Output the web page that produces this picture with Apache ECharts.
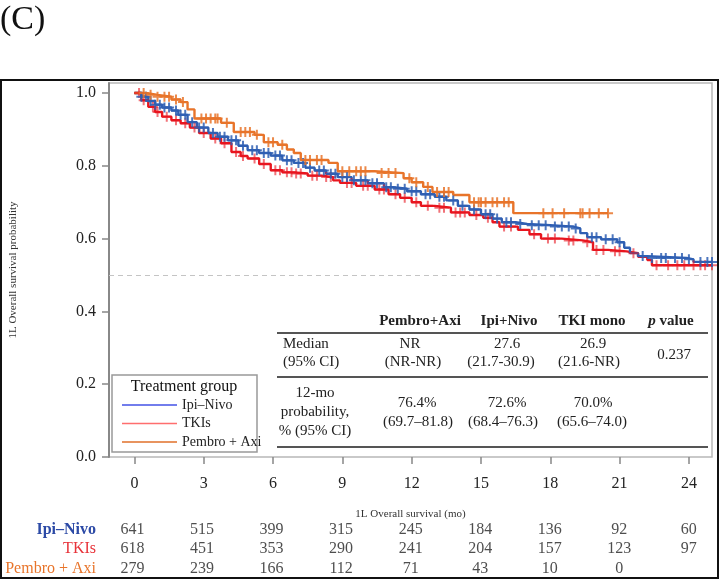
<!DOCTYPE html>
<html><head><meta charset="utf-8">
<script src="https://cdn.jsdelivr.net/npm/echarts@6/dist/echarts.min.js"></script>
<style>html,body{margin:0;padding:0;background:#fff}#c{width:720px;height:581px}</style>
</head><body><div id="c"></div>
<script>
// ---------- data ----------
const groups = ['Ipi–Nivo', 'TKIs', 'Pembro + Axi'];
const xTicks = [0, 3, 6, 9, 12, 15, 18, 21, 24];
const yTicks = [0, 0.2, 0.4, 0.6, 0.8, 1.0];

const ipiNivoCurve = [[0,1.0],[0.3,0.99],[0.6,0.978],[0.9,0.968],[1.2,0.96],[1.6,0.952],[1.9,0.94],[2.3,0.92],[2.7,0.905],[3.2,0.89],[3.6,0.88],[4.05,0.87],[4.5,0.855],[4.9,0.843],[5.4,0.835],[5.9,0.828],[6.4,0.815],[6.9,0.808],[7.4,0.795],[7.8,0.787],[8.3,0.778],[8.8,0.769],[9.4,0.76],[10.1,0.752],[10.8,0.741],[11.2,0.737],[11.8,0.73],[12.4,0.722],[13.0,0.715],[13.5,0.705],[14.0,0.69],[14.5,0.68],[15.0,0.667],[15.5,0.655],[15.9,0.645],[16.5,0.64],[17.0,0.637],[18.0,0.633],[19.0,0.628],[19.3,0.615],[19.6,0.604],[20.2,0.598],[20.9,0.59],[21.2,0.575],[21.45,0.56],[21.8,0.552],[22.2,0.547],[23.9,0.543],[24.2,0.536],[25.0,0.536]];
const tkiCurve = [[0,1.0],[0.3,0.98],[0.6,0.962],[0.9,0.948],[1.2,0.935],[1.6,0.925],[2.0,0.917],[2.4,0.905],[2.8,0.89],[3.3,0.875],[3.75,0.862],[4.2,0.838],[4.6,0.827],[4.9,0.82],[5.4,0.805],[5.9,0.788],[6.4,0.782],[6.9,0.779],[7.5,0.773],[8.1,0.769],[8.6,0.76],[8.9,0.753],[9.6,0.745],[10.4,0.735],[11.0,0.722],[11.5,0.712],[12.0,0.70],[12.4,0.69],[13.0,0.685],[13.7,0.672],[14.5,0.665],[15.1,0.657],[15.5,0.645],[15.8,0.633],[16.6,0.624],[17.1,0.612],[17.6,0.60],[18.5,0.595],[19.4,0.59],[19.85,0.569],[20.5,0.565],[21.3,0.56],[21.8,0.55],[22.2,0.541],[22.4,0.527],[25.0,0.527]];
const pembroCurve = [[0,1.0],[0.5,0.995],[1.0,0.99],[1.6,0.982],[2.0,0.975],[2.3,0.955],[2.6,0.93],[3.75,0.918],[4.3,0.893],[5.2,0.885],[5.6,0.865],[6.2,0.858],[6.6,0.845],[6.9,0.835],[7.2,0.816],[8.4,0.808],[8.8,0.785],[10.4,0.78],[11.65,0.766],[12.0,0.755],[12.5,0.742],[12.9,0.728],[13.8,0.72],[14.5,0.70],[16.4,0.67],[20.5,0.67]];

const ipiNivoCensor = [0.3,0.5,0.7,0.9,1.1,1.3,1.5,1.8,2.0,2.2,2.5,2.8,3.0,3.4,3.7,3.9,4.2,4.4,4.7,5.1,5.3,5.6,5.8,6.1,6.3,6.6,6.8,7.1,7.3,7.6,8.0,8.2,8.5,8.7,9.0,9.2,9.5,9.8,10.0,10.3,10.5,10.9,11.1,11.4,11.7,12.0,12.2,12.6,12.8,13.2,13.4,13.8,14.2,14.7,15.2,15.4,15.7,16.1,16.3,16.7,17.2,17.5,17.8,18.2,18.5,18.8,19.1,19.8,20.0,20.4,20.7,21.0,22.0,22.4,22.8,23.0,23.4,23.7,24.0,24.5,24.8,25.0];
const tkiCensor = [0.2,0.4,0.8,1.0,1.4,1.8,2.2,2.6,3.0,3.5,3.9,4.4,4.7,5.2,5.6,6.1,6.3,6.6,6.8,7.0,7.2,7.7,7.9,8.3,8.5,9.2,9.4,9.9,10.1,10.6,10.8,11.3,11.7,12.2,12.7,13.2,13.4,13.9,14.1,14.3,14.8,15.3,16.0,16.3,17.3,17.9,18.2,18.8,19.0,19.6,20.0,20.3,20.8,21.0,21.6,22.6,23.1,23.5,23.8,24.2,24.5,24.7,25.0];
const pembroCensor = [0.4,0.7,1.0,1.3,1.5,1.8,2.1,2.9,3.1,3.3,3.5,3.6,4.0,4.6,4.8,5.0,5.3,5.8,6.0,6.4,7.4,7.6,7.9,8.1,9.0,9.3,9.6,9.8,10.0,10.7,11.0,11.3,11.9,12.2,12.7,13.1,13.4,13.6,14.7,14.9,15.0,15.2,15.5,15.7,16.0,16.2,17.7,18.1,18.6,19.3,19.4,19.7,20.1,20.5];

const riskTimes = [0, 3, 6, 9, 12, 15, 18, 21, 24];
const ipiNivoRisk = [641, 515, 399, 315, 245, 184, 136, 92, 60];
const tkiRisk = [618, 451, 353, 290, 241, 204, 157, 123, 97];
const pembroRisk = [279, 239, 166, 112, 71, 43, 10, 0];

// ---------- styling ----------
const SERIF = "'Liberation Serif', 'Times New Roman', serif";
const colLine = ['#2F5FB3', '#E8161F', '#E8742A'];
const colLegend = ['#4352E6', '#FF6E6E', '#E0702A'];
const colRisk = ['#2C4AA6', '#E8333A', '#E8742A'];

function survAt(curve, t) {
  let s = curve[0][1];
  for (const p of curve) { if (p[0] <= t) s = p[1]; else break; }
  return s;
}
const plus = 'path://M4,0H6V4H10V6H6V10H4V6H0V4H4Z';

const curves = [ipiNivoCurve, tkiCurve, pembroCurve];
const censors = [ipiNivoCensor, tkiCensor, pembroCensor];
const risks = [ipiNivoRisk, tkiRisk, pembroRisk];

const series = [];
[1, 0, 2].forEach(i => {
  series.push({
    type: 'line', name: groups[i], data: curves[i], step: 'end',
    symbol: 'none', showSymbol: false, xAxisIndex: 0, yAxisIndex: 0,
    lineStyle: { color: colLine[i], width: 2.4 }, itemStyle: { color: colLine[i] },
    z: 3,
    markLine: i === 1 ? {
      silent: true, symbol: 'none', label: { show: false },
      lineStyle: { color: '#c4c4c4', type: [5, 4], width: 1 },
      data: [{ yAxis: 0.5 }]
    } : undefined
  });
  series.push({
    type: 'scatter', name: groups[i] + ' censored',
    data: censors[i].map(t => [t, survAt(curves[i], t)]),
    symbol: plus, symbolSize: 10, xAxisIndex: 0, yAxisIndex: 0,
    itemStyle: { color: colLine[i], opacity: i === 1 ? 0.6 : 0.85 }, z: 4
  });
});
risks.forEach((arr, i) => {
  series.push({
    type: 'scatter', xAxisIndex: 1, yAxisIndex: 1, symbolSize: 1,
    itemStyle: { color: 'rgba(0,0,0,0)' },
    data: arr.map((v, k) => [riskTimes[k], groups[i], v]),
    label: { show: true, position: 'inside', formatter: p => String(p.value[2]),
      fontFamily: SERIF, fontSize: 16, color: '#222' }
  });
});

const T = (text, x, y, opts = {}) => ({
  type: 'text', silent: true, z: 10,
  style: Object.assign({ text, x, y, align: 'center', verticalAlign: 'middle',
    fontFamily: SERIF, fontSize: 15, fill: '#222' }, opts)
});
const L = (x1, y1, x2, y2, w, c) => ({ type: 'line', silent: true, z: 10,
  shape: { x1, y1, x2, y2 }, style: { stroke: c || '#555', lineWidth: w || 2 } });

const graphics = [
  T('(C)', 0, 20, { align: 'left', fontSize: 34, fill: '#111' }),
  { type: 'rect', silent: true, z: 0, shape: { x: 1, y: 80, width: 717, height: 498 },
    style: { fill: 'none', stroke: '#111', lineWidth: 2 } },
  T('Pembro+Axi', 420, 321, { fontWeight: 'bold' }),
  T('Ipi+Nivo', 509, 321, { fontWeight: 'bold' }),
  T('TKI mono', 592, 321, { fontWeight: 'bold' }),
  T('{i|p} value', 671, 321, { fontWeight: 'bold', rich: { i: { fontStyle: 'italic', fontWeight: 'bold', fontFamily: SERIF, fontSize: 15 } } }),
  L(277, 333, 708, 333),
  T('Median', 283, 344, { align: 'left' }),
  T('(95% CI)', 283, 362, { align: 'left' }),
  T('NR', 410, 344), T('(NR-NR)', 413, 362),
  T('27.6', 507, 344), T('(21.7-30.9)', 501, 362),
  T('26.9', 593, 344), T('(21.6-NR)', 589, 362),
  T('0.237', 674, 355),
  L(277, 377, 708, 377),
  T('12-mo', 315, 393), T('probability,', 315, 412), T('% (95% CI)', 315, 431),
  T('76.4%', 417, 403), T('(69.7–81.8)', 418, 422),
  T('72.6%', 507, 403), T('(68.4–76.3)', 503, 422),
  T('70.0%', 593, 403), T('(65.6–74.0)', 592, 422),
  L(277, 447, 708, 447),
  { type: 'rect', silent: true, z: 9, shape: { x: 112, y: 375, width: 145, height: 77 },
    style: { fill: '#fff', stroke: '#999', lineWidth: 1.5 } },
  T('Treatment group', 184, 387, { fontSize: 16, fill: '#111' })
];

const chart = echarts.init(document.getElementById('c'), null, { renderer: 'canvas' });
chart.setOption({
  animation: false,
  backgroundColor: '#fff',
  grid: [
    { left: 107, right: 8, top: 83, bottom: 124, show: true, borderColor: '#b8b8b8', borderWidth: 1.5, containLabel: false },
    { left: 107, right: 8, top: 520, bottom: 3, containLabel: false }
  ],
  xAxis: [
    { type: 'value', gridIndex: 0, min: -1.1, max: 25,
      name: '1L Overall survival (mo)', nameLocation: 'middle', nameGap: 52,
      nameTextStyle: { fontFamily: SERIF, fontSize: 11, color: '#333' },
      axisLine: { show: false, onZero: false }, splitLine: { show: false },
      axisTick: { show: true, length: 7, customValues: xTicks, lineStyle: { color: '#888', width: 1.5 } },
      axisLabel: { customValues: xTicks, margin: 19, fontFamily: SERIF, fontSize: 16, color: '#222' } },
    { type: 'value', gridIndex: 1, min: -1.1, max: 25, show: false }
  ],
  yAxis: [
    { type: 'value', gridIndex: 0, min: 0, max: 1.0275,
      name: '1L Overall survival probability', nameLocation: 'middle', nameGap: 90,
      nameTextStyle: { fontFamily: SERIF, fontSize: 11, color: '#333' },
      axisLine: { show: true, onZero: false, lineStyle: { color: '#888', width: 2 } }, splitLine: { show: false },
      axisTick: { show: true, length: 7, customValues: yTicks, lineStyle: { color: '#888', width: 1.5 } },
      axisLabel: { customValues: yTicks, margin: 13, formatter: v => v.toFixed(1), fontFamily: SERIF, fontSize: 16, color: '#222' } },
    { type: 'category', gridIndex: 1, data: groups, inverse: true,
      axisLine: { show: false }, axisTick: { show: false }, splitLine: { show: false },
      axisLabel: { interval: 0, margin: 11, fontFamily: SERIF, fontSize: 16,
        formatter: (v, idx) => '{r' + idx + '|' + v + '}',
        rich: { r0: { color: colRisk[0], fontFamily: SERIF, fontSize: 16, fontWeight: 'bold' },
                r1: { color: colRisk[1], fontFamily: SERIF, fontSize: 16 },
                r2: { color: colRisk[2], fontFamily: SERIF, fontSize: 16 } } } }
  ],
  legend: {
    orient: 'vertical', left: 117, top: 393, itemWidth: 55, itemHeight: 1.6, itemGap: 4.5,
    selectedMode: false, z: 11, icon: 'rect',
    textStyle: { fontFamily: SERIF, fontSize: 14, color: '#222', lineHeight: 14 },
    data: groups.map((g, i) => ({ name: g, icon: 'rect', itemStyle: { color: colLegend[i] } }))
  },
  graphic: graphics,
  series: series
});
</script></body></html>
